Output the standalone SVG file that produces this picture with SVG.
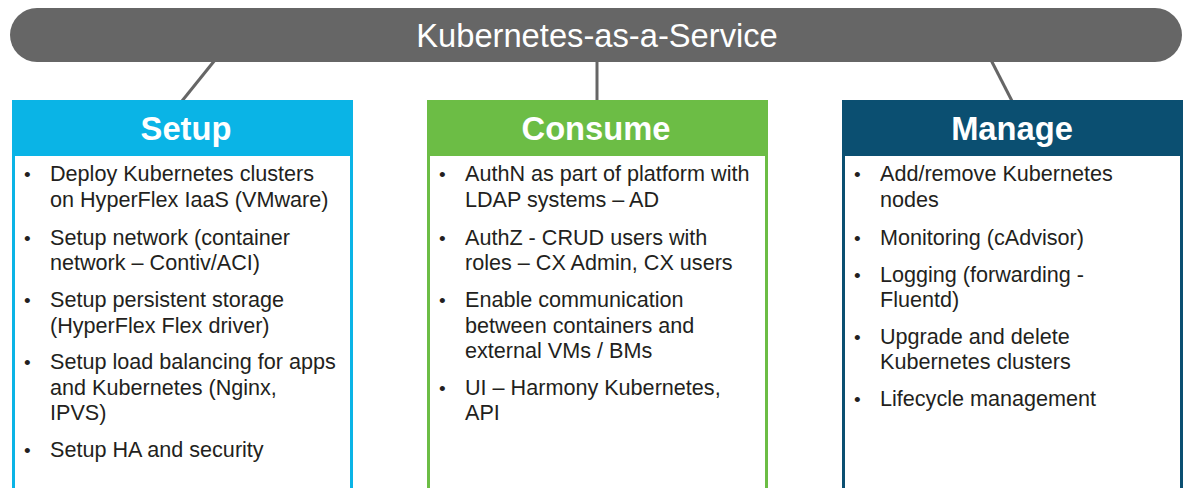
<svg xmlns="http://www.w3.org/2000/svg" width="1184" height="488" viewBox="0 0 1184 488">
<style>
.bar{fill:#666666}
.title{font-family:"Liberation Sans",Arial,sans-serif;font-size:32.7px;fill:#ffffff}
.conn{stroke:#666666;stroke-width:3;fill:none}
.box{fill:#ffffff;stroke-width:3}
.head{font-family:"Liberation Sans",Arial,sans-serif;font-size:32.7px;font-weight:bold;fill:#ffffff;text-anchor:middle}
.item{font-family:"Liberation Sans",Arial,sans-serif;font-size:21.6px;fill:#231f20}
.dot{font-family:"Liberation Sans",Arial,sans-serif;font-size:19px;fill:#231f20}
</style>
<rect width="1184" height="488" fill="#ffffff"/>
<g id="connectors">
<line class="conn" x1="215" y1="60" x2="182" y2="101"/>
<line class="conn" x1="597" y1="60" x2="597" y2="101"/>
<line class="conn" x1="991" y1="60" x2="1012" y2="101"/>
</g>
<g id="kaas">
<rect class="bar" x="10" y="8" width="1172" height="54" rx="27" ry="27"/>
<text class="title" x="597" y="47" text-anchor="middle">Kubernetes-as-a-Service</text>
</g>
<g id="setup">
<rect class="box" x="13.5" y="101.5" width="338" height="400" stroke="#0ab4e6"/>
<rect x="12" y="100" width="341" height="56" fill="#0ab4e6"/>
<text class="head" x="186" y="140">Setup</text>
<g class="dot">
<text x="24" y="181">•</text><text x="24" y="245">•</text><text x="24" y="307">•</text><text x="24" y="369">•</text><text x="24" y="457">•</text>
</g>
<g class="item">
<text x="50" y="181">Deploy Kubernetes clusters</text>
<text x="50" y="207">on HyperFlex IaaS (VMware)</text>
<text x="50" y="245">Setup network (container</text>
<text x="50" y="270">network – Contiv/ACI)</text>
<text x="50" y="307">Setup persistent storage</text>
<text x="50" y="333">(HyperFlex Flex driver)</text>
<text x="50" y="369">Setup load balancing for apps</text>
<text x="50" y="395">and Kubernetes (Nginx,</text>
<text x="50" y="420">IPVS)</text>
<text x="50" y="457">Setup HA and security</text>
</g>
</g>
<g id="consume">
<rect class="box" x="428.5" y="101.5" width="338" height="400" stroke="#6cbd45"/>
<rect x="427" y="100" width="341" height="56" fill="#6cbd45"/>
<text class="head" x="596" y="140">Consume</text>
<g class="dot">
<text x="439" y="181">•</text><text x="439" y="245">•</text><text x="439" y="307">•</text><text x="439" y="395">•</text>
</g>
<g class="item">
<text x="465" y="181">AuthN as part of platform with</text>
<text x="465" y="207">LDAP systems – AD</text>
<text x="465" y="245">AuthZ - CRUD users with</text>
<text x="465" y="270">roles – CX Admin, CX users</text>
<text x="465" y="307">Enable communication</text>
<text x="465" y="333">between containers and</text>
<text x="465" y="358">external VMs / BMs</text>
<text x="465" y="395">UI – Harmony Kubernetes,</text>
<text x="465" y="420">API</text>
</g>
</g>
<g id="manage">
<rect class="box" x="843.5" y="101.5" width="338" height="400" stroke="#0b4f71"/>
<rect x="842" y="100" width="341" height="56" fill="#0b4f71"/>
<text class="head" x="1012" y="140">Manage</text>
<g class="dot">
<text x="854" y="181">•</text><text x="854" y="245">•</text><text x="854" y="282">•</text><text x="854" y="344">•</text><text x="854" y="406">•</text>
</g>
<g class="item">
<text x="880" y="181">Add/remove Kubernetes</text>
<text x="880" y="207">nodes</text>
<text x="880" y="245">Monitoring (cAdvisor)</text>
<text x="880" y="282">Logging (forwarding -</text>
<text x="880" y="307">Fluentd)</text>
<text x="880" y="344">Upgrade and delete</text>
<text x="880" y="369">Kubernetes clusters</text>
<text x="880" y="406">Lifecycle management</text>
</g>
</g>
</svg>
